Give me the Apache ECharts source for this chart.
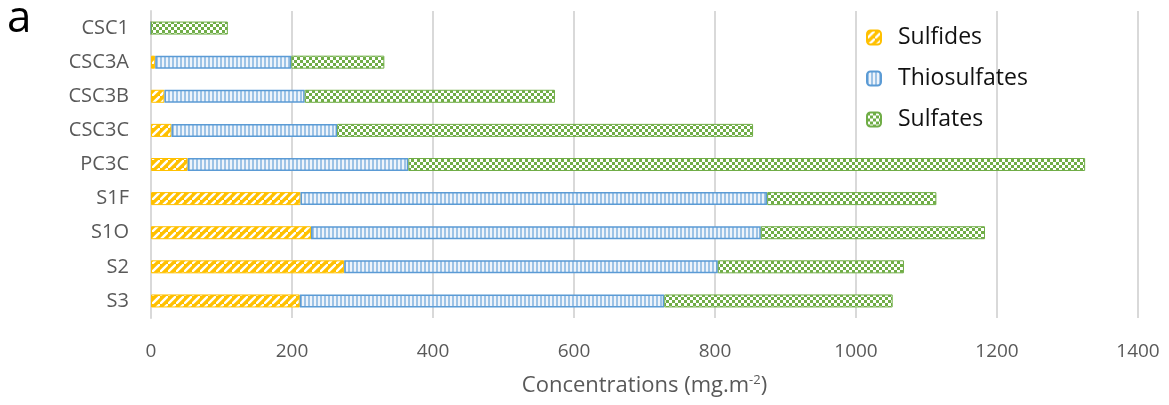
<!DOCTYPE html>
<html>
<head>
<meta charset="utf-8">
<script src="https://cdn.jsdelivr.net/npm/echarts@6/dist/echarts.min.js"></script>
<style>
  html, body { margin: 0; padding: 0; background: #fff; }
  #chart { width: 1169px; height: 405px; }
</style>
</head>
<body>
<div id="chart"></div>
<script>
(function () {
  'use strict';
  var categories = ['CSC1', 'CSC3A', 'CSC3B', 'CSC3C', 'PC3C', 'S1F', 'S1O', 'S2', 'S3'];
  var sulfides = [0, 6, 19, 29, 52, 212, 227, 274, 211];
  var thiosulfates = [0, 193, 199, 235, 313, 662, 638, 530, 517];
  var sulfates = [109, 132, 355, 590, 960, 240, 318, 264, 324];
  var xTicks = [0, 200, 400, 600, 800, 1000, 1200, 1400];

  // pattern tiles like the excel fills
  function tile(size, draw) {
    var c = document.createElement('canvas');
    c.width = size; c.height = size;
    draw(c.getContext('2d'));
    return { image: c, repeat: 'repeat' };
  }
  var sulfideFill = tile(8, function (ctx) {
    ctx.fillStyle = '#FFC000';
    ctx.fillRect(0, 0, 8, 8);
    ctx.strokeStyle = '#ffffff';
    ctx.lineWidth = 2.4;
    ctx.beginPath();
    ctx.moveTo(-2, 10); ctx.lineTo(10, -2);
    ctx.stroke();
  });
  var thioFill = tile(4, function (ctx) {
    ctx.fillStyle = '#eef4fb';
    ctx.fillRect(0, 0, 4, 4);
    ctx.fillStyle = '#9DC3E6';
    ctx.fillRect(0, 0, 2, 4);
  });
  var sulfateFill = tile(6, function (ctx) {
    ctx.fillStyle = '#ffffff';
    ctx.fillRect(0, 0, 6, 6);
    ctx.fillStyle = '#70AD47';
    ctx.fillRect(0, 0, 3, 3);
    ctx.fillRect(3, 3, 3, 3);
  });

  var myChart = echarts.init(document.getElementById('chart'));
  var option = {
    animation: false,
    textStyle: { fontFamily: 'Open Sans' },
    graphic: [{
      type: 'text', left: 7, top: -3,
      style: { text: 'a', fontSize: 44, fill: '#000', fontFamily: 'Open Sans' }
    }],
    legend: {
      orient: 'vertical',
      left: 866,
      top: 26,
      padding: 0,
      itemWidth: 14,
      itemHeight: 14,
      itemGap: 18,
      textStyle: { fontSize: 23, lineHeight: 23, color: '#111', fontFamily: 'Open Sans', padding: [0, 0, 0, 12] },
      data: ['Sulfides', 'Thiosulfates', 'Sulfates']
    },
    grid: { left: 151, right: 31, top: 11, bottom: 87, containLabel: false },
    xAxis: {
      type: 'value',
      min: 0,
      max: 1400,
      interval: 200,
      name: 'Concentrations (mg.m{sup|-2})',
      nameLocation: 'middle',
      nameGap: 56,
      nameTextStyle: {
        fontSize: 22, color: '#595959',
        rich: { sup: { fontSize: 13, color: '#595959', verticalAlign: 'top', padding: [0, 0, 10, 0] } }
      },
      axisLabel: {
        fontSize: 19, color: '#595959', margin: 24,
        formatter: function (v) { return xTicks.indexOf(v) >= 0 ? String(v) : ''; }
      },
      axisLine: { show: false },
      axisTick: { show: false },
      splitLine: { lineStyle: { color: '#d9d9d9', width: 2 } }
    },
    yAxis: {
      type: 'category',
      inverse: true,
      data: categories,
      axisLabel: { fontSize: 20, color: '#595959', margin: 22 },
      axisTick: { show: false },
      axisLine: { show: true, lineStyle: { color: '#d9d9d9', width: 2 } }
    },
    series: [{
      name: 'Sulfides',
      type: 'bar',
      stack: 'total',
      barWidth: 13,
      data: sulfides,
      itemStyle: { color: sulfideFill, borderColor: '#FFC000', borderWidth: 1 }
    }, {
      name: 'Thiosulfates',
      type: 'bar',
      stack: 'total',
      barWidth: 13,
      data: thiosulfates,
      itemStyle: { color: thioFill, borderColor: '#5B9BD5', borderWidth: 1.5 }
    }, {
      name: 'Sulfates',
      type: 'bar',
      stack: 'total',
      barWidth: 13,
      data: sulfates,
      itemStyle: { color: sulfateFill, borderColor: '#70AD47', borderWidth: 1 }
    }]
  };
  myChart.setOption(option);
  window.addEventListener('resize', function () {
    myChart.resize();
  });
})();
</script>
</body>
</html>
